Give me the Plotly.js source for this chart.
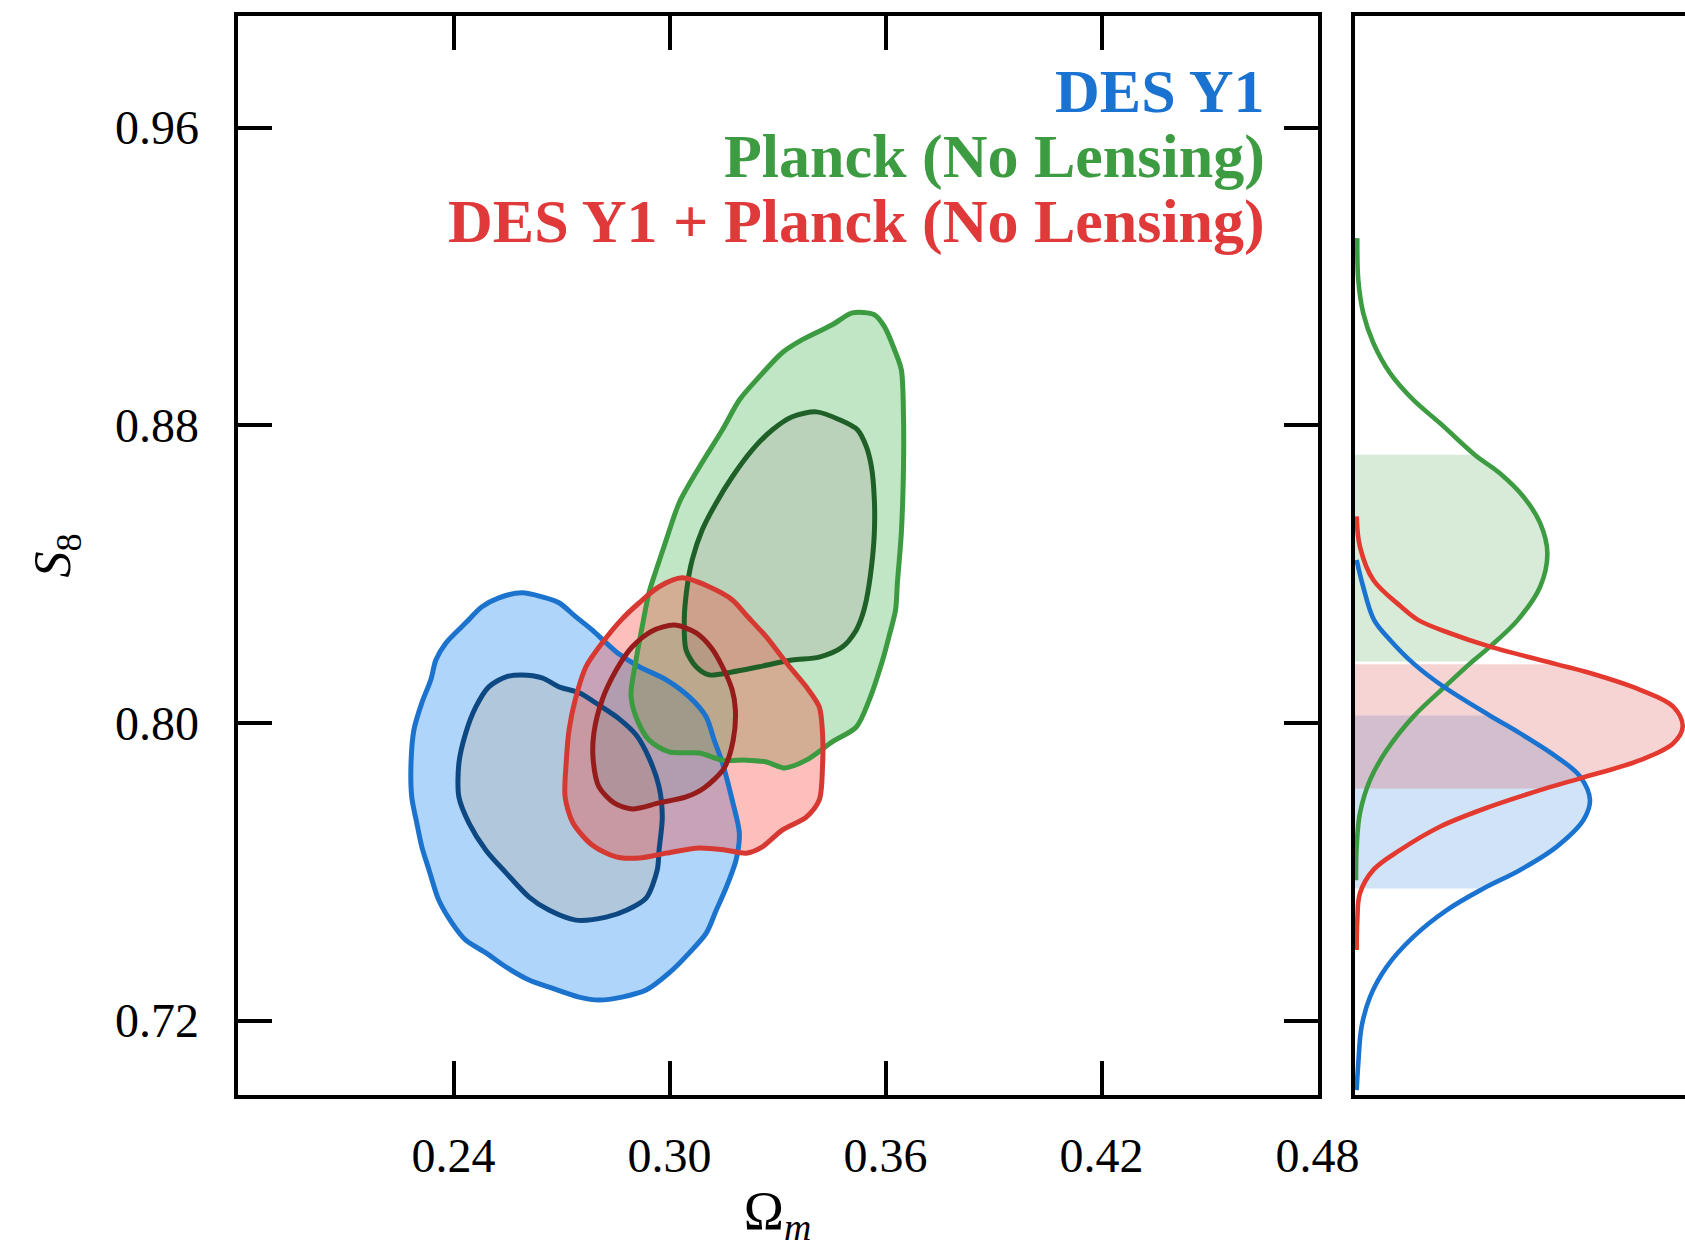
<!DOCTYPE html>
<html>
<head>
<meta charset="utf-8">
<script src="https://cdn.plot.ly/plotly-3.0.1.min.js"></script>
<style>html,body{margin:0;padding:0;background:#fff;}</style>
</head>
<body>
<div id="chart" style="width:1685px;height:1248px;"></div>
<script>
// ---------------- DATA ----------------
const seriesNames = ['DES Y1', 'Planck (No Lensing)', 'DES Y1 + Planck (No Lensing)'];
const omegaTicks = [0.24, 0.30, 0.36, 0.42, 0.48];
const s8Ticks = [0.72, 0.80, 0.88, 0.96];

// DES Y1 contours (Omega_m, S8)
const desOuterOm = [0.2526,0.2590,0.2646,0.2693,0.2740,0.2785,0.2824,0.2860,0.2916,0.2991,0.3055,0.3102,0.3124,0.3147,0.3174,0.3194,0.3185,0.3158,0.3130,0.3102,0.3055,0.2999,0.2935,0.2868,0.2804,0.2749,0.2674,0.2610,0.2546,0.2490,0.2434,0.2396,0.2359,0.2332,0.2312,0.2298,0.2284,0.2282,0.2290,0.2312,0.2337,0.2351,0.2379,0.2434,0.2479];
const desOuterS8 = [0.8336,0.8350,0.8339,0.8323,0.8285,0.8250,0.8215,0.8185,0.8151,0.8116,0.8070,0.8016,0.7954,0.7892,0.7793,0.7704,0.7632,0.7559,0.7497,0.7435,0.7382,0.7328,0.7282,0.7263,0.7255,0.7263,0.7287,0.7309,0.7344,0.7382,0.7416,0.7462,0.7524,0.7605,0.7667,0.7731,0.7801,0.7892,0.7981,0.8054,0.8116,0.8169,0.8215,0.8269,0.8312];
const desInnerOm = [0.2546,0.2590,0.2646,0.2693,0.2749,0.2804,0.2860,0.2907,0.2943,0.2971,0.2980,0.2971,0.2966,0.2935,0.2882,0.2824,0.2740,0.2665,0.2610,0.2546,0.2490,0.2443,0.2415,0.2415,0.2434,0.2462,0.2498];
const desInnerS8 = [0.8124,0.8129,0.8121,0.8097,0.8081,0.8048,0.8011,0.7968,0.7906,0.7828,0.7747,0.7658,0.7605,0.7529,0.7497,0.7478,0.7470,0.7497,0.7532,0.7597,0.7658,0.7731,0.7801,0.7892,0.7973,0.8043,0.8097];

// Planck (No Lensing) contours
const plkOuterOm = [0.3508,0.3569,0.3597,0.3625,0.3644,0.3650,0.3650,0.3644,0.3633,0.3628,0.3611,0.3592,0.3555,0.3519,0.3452,0.3380,0.3319,0.3269,0.3213,0.3147,0.3083,0.2999,0.2943,0.2907,0.2893,0.2907,0.2924,0.2943,0.2963,0.2991,0.3027,0.3083,0.3147,0.3194,0.3249,0.3313,0.3369,0.3452];
const plkOuterS8 = [0.9102,0.9097,0.9065,0.9003,0.8949,0.8823,0.8688,0.8511,0.8376,0.8304,0.8237,0.8169,0.8062,0.7989,0.7949,0.7900,0.7879,0.7895,0.7900,0.7900,0.7919,0.7922,0.7954,0.8016,0.8075,0.8169,0.8258,0.8350,0.8411,0.8492,0.8592,0.8688,0.8788,0.8868,0.8930,0.8995,0.9030,0.9070];
const plkInnerOm = [0.3408,0.3472,0.3522,0.3547,0.3561,0.3569,0.3569,0.3561,0.3547,0.3536,0.3519,0.3480,0.3416,0.3341,0.3249,0.3174,0.3110,0.3074,0.3046,0.3041,0.3049,0.3063,0.3091,0.3130,0.3174,0.3230,0.3286,0.3341];
const plkInnerS8 = [0.8836,0.8815,0.8788,0.8742,0.8688,0.8600,0.8511,0.8419,0.8331,0.8290,0.8250,0.8204,0.8177,0.8169,0.8151,0.8137,0.8129,0.8151,0.8196,0.8277,0.8366,0.8438,0.8519,0.8592,0.8661,0.8734,0.8788,0.8823];

// DES Y1 + Planck (No Lensing) contours
const combOuterOm = [0.3035,0.3110,0.3174,0.3213,0.3269,0.3325,0.3380,0.3416,0.3425,0.3425,0.3416,0.3380,0.3313,0.3258,0.3213,0.3158,0.3083,0.2991,0.2916,0.2852,0.2785,0.2732,0.2710,0.2713,0.2721,0.2738,0.2768,0.2813,0.2866,0.2916,0.2971];
const combOuterS8 = [0.8390,0.8366,0.8331,0.8290,0.8231,0.8161,0.8097,0.8043,0.7973,0.7882,0.7793,0.7747,0.7712,0.7667,0.7650,0.7658,0.7664,0.7650,0.7637,0.7640,0.7672,0.7731,0.7801,0.7892,0.7981,0.8062,0.8151,0.8215,0.8277,0.8323,0.8366];
const combInnerOm = [0.3013,0.3074,0.3116,0.3147,0.3174,0.3183,0.3177,0.3152,0.3096,0.3046,0.2971,0.2896,0.2846,0.2804,0.2788,0.2790,0.2813,0.2852,0.2896,0.2952];
const combInnerS8 = [0.8263,0.8242,0.8202,0.8151,0.8089,0.8035,0.7954,0.7879,0.7825,0.7801,0.7785,0.7769,0.7785,0.7828,0.7900,0.7973,0.8062,0.8142,0.8204,0.8247];

// 1D marginal posteriors of S8 (S8 value, relative density)
const plk1dS8 = [0.9303,0.9191,0.9102,0.9021,0.8940,0.8868,0.8806,0.8721,0.8671,0.8608,0.8537,0.8456,0.8366,0.8277,0.8205,0.8165,0.8102,0.8017,0.7927,0.7847,0.7757,0.7667,0.7577];
const plk1dP  = [0.007,0.010,0.025,0.056,0.107,0.178,0.259,0.365,0.442,0.514,0.565,0.587,0.565,0.497,0.412,0.358,0.280,0.178,0.097,0.046,0.015,0.005,0.003];
const comb1dS8 = [0.8555,0.8474,0.8384,0.8313,0.8277,0.8241,0.8205,0.8158,0.8134,0.8089,0.8044,0.7990,0.7945,0.7900,0.7851,0.7824,0.7775,0.7721,0.7658,0.7605,0.7542,0.7470,0.7390];
const comb1dP  = [0.005,0.015,0.056,0.140,0.192,0.290,0.412,0.614,0.717,0.870,0.971,1.000,0.971,0.870,0.687,0.582,0.412,0.259,0.137,0.056,0.015,0.007,0.005];
const des1dS8 = [0.8438,0.8366,0.8277,0.8223,0.8160,0.8098,0.8020,0.7972,0.7909,0.7856,0.7793,0.7739,0.7667,0.7605,0.7555,0.7497,0.7425,0.7345,0.7264,0.7183,0.7085,0.7013];
const des1dP  = [0.005,0.025,0.058,0.107,0.178,0.269,0.411,0.504,0.615,0.687,0.717,0.697,0.615,0.504,0.392,0.280,0.178,0.097,0.046,0.020,0.010,0.005];

// 68% intervals (upper, lower)
const plkBand = [0.8721, 0.8165];
const combBand = [0.8158, 0.7824];
const desBand = [0.8020, 0.7555];

// ---------------- STYLE ----------------
const C = {
  desLine: '#1b73cd', desInnerLine: '#0e4882', desFill: '#b0d5fa', desInnerFill: '#b0c7dc',
  plkLine: '#3c9b41', plkInnerLine: '#1f5f28', plkFill: 'rgba(129,205,141,0.5)', plkInnerFill: 'rgba(115,165,115,0.5)',
  combLine: '#d63832', combInnerLine: '#961c1c', combFill: 'rgba(249,61,49,0.33)', combInnerFill: 'rgba(179,27,8,0.3)',
  des1d: '#1a73d0', plk1d: '#3d9c42', comb1d: '#e3392f',
  desBand: 'rgba(26,115,208,0.2)', plkBand: 'rgba(60,155,65,0.2)', combBand: 'rgba(214,60,60,0.22)'
};
const SERIF = 'Liberation Serif, Times New Roman, serif';

function closeRing(a) { return a.concat([a[0]]); }
function band(ox, oy, ix, iy) {
  // outer ring + reversed inner ring => ring with hole
  const rx = ix.slice().reverse(), ry = iy.slice().reverse();
  return { x: closeRing(ox).concat([null]).concat(closeRing(rx)), y: closeRing(oy).concat([null]).concat(closeRing(ry)) };
}
function fillTrace(x, y, color) {
  return { x: x, y: y, type: 'scatter', mode: 'lines', fill: 'toself', fillcolor: color,
           line: { width: 0, shape: 'spline', smoothing: 0.8 }, hoverinfo: 'skip', xaxis: 'x', yaxis: 'y' };
}
function lineTrace(x, y, color) {
  return { x: closeRing(x), y: closeRing(y), type: 'scatter', mode: 'lines',
           line: { color: color, width: 5, shape: 'spline', smoothing: 0.8 }, hoverinfo: 'skip', xaxis: 'x', yaxis: 'y' };
}
function bandTrace(s8, p, edges, color) {
  const i0 = s8.indexOf(edges[0]), i1 = s8.indexOf(edges[1]);
  return { x: p.slice(i0, i1 + 1), y: s8.slice(i0, i1 + 1), type: 'scatter', mode: 'lines', fill: 'tozerox',
           fillcolor: color, line: { width: 0, shape: 'spline' }, hoverinfo: 'skip', xaxis: 'x2', yaxis: 'y2' };
}
function curveTrace(s8, p, color) {
  return { x: p, y: s8, type: 'scatter', mode: 'lines', line: { color: color, width: 4.6, shape: 'spline' },
           hoverinfo: 'skip', xaxis: 'x2', yaxis: 'y2' };
}

const desB = band(desOuterOm, desOuterS8, desInnerOm, desInnerS8);
const plkB = band(plkOuterOm, plkOuterS8, plkInnerOm, plkInnerS8);
const combB = band(combOuterOm, combOuterS8, combInnerOm, combInnerS8);

const traces = [
  fillTrace(desB.x, desB.y, C.desFill),
  fillTrace(closeRing(desInnerOm), closeRing(desInnerS8), C.desInnerFill),
  fillTrace(plkB.x, plkB.y, C.plkFill),
  fillTrace(closeRing(plkInnerOm), closeRing(plkInnerS8), C.plkInnerFill),
  fillTrace(combB.x, combB.y, C.combFill),
  fillTrace(closeRing(combInnerOm), closeRing(combInnerS8), C.combInnerFill),
  lineTrace(desOuterOm, desOuterS8, C.desLine),
  lineTrace(desInnerOm, desInnerS8, C.desInnerLine),
  lineTrace(plkOuterOm, plkOuterS8, C.plkLine),
  lineTrace(plkInnerOm, plkInnerS8, C.plkInnerLine),
  lineTrace(combOuterOm, combOuterS8, C.combLine),
  lineTrace(combInnerOm, combInnerS8, C.combInnerLine),
  bandTrace(plk1dS8, plk1dP, plkBand, C.plkBand),
  bandTrace(des1dS8, des1dP, desBand, C.desBand),
  bandTrace(comb1dS8, comb1dP, combBand, C.combBand),
  curveTrace(plk1dS8, plk1dP, C.plk1d),
  curveTrace(des1dS8, des1dP, C.des1d),
  curveTrace(comb1dS8, comb1dP, C.comb1d)
];

const axisCommon = {
  showgrid: false, zeroline: false, showline: true, linewidth: 4, linecolor: 'black',
  ticks: 'inside', ticklen: 34, tickwidth: 4, tickcolor: 'black', mirror: 'ticks',
  tickfont: { family: SERIF, size: 48, color: 'black' }, fixedrange: true
};

const legendColors = [C.des1d, C.plk1d, '#e0393a'];
const legendY = [0.9271, 0.8750, 0.8229];
const annotations = seriesNames.map((name, i) => ({
  text: name, xref: 'paper', yref: 'paper', x: 0.7522, y: legendY[i], xanchor: 'right', yanchor: 'middle',
  showarrow: false, font: { family: SERIF, size: 62, color: legendColors[i], weight: 'bold' }
}));

const layout = {
  width: 1685, height: 1248,
  margin: { l: 0, r: 0, t: 0, b: 0 },
  paper_bgcolor: 'white', plot_bgcolor: 'rgba(0,0,0,0)',
  showlegend: false,
  xaxis: Object.assign({}, axisCommon, {
    domain: [0.14095, 0.7819], range: [0.18, 0.48],
    tickvals: omegaTicks, ticktext: omegaTicks.map(v => v.toFixed(2)),
    ticklabelstandoff: 15,
    title: { text: 'Ω<sub><i>m</i></sub>', font: { family: SERIF, size: 54, color: 'black' }, standoff: 53 }
  }),
  yaxis: Object.assign({}, axisCommon, {
    domain: [0.1226, 0.98718], range: [0.70, 0.99],
    tickvals: s8Ticks, ticktext: s8Ticks.map(v => v.toFixed(2)),
    ticklabelstandoff: 25,
    title: { text: '<i>S</i><sub>8</sub>', font: { family: SERIF, size: 52, color: 'black' }, standoff: 29 }
  }),
  xaxis2: {
    domain: [0.80415, 1], range: [0, 1.007], anchor: 'y2',
    showgrid: false, zeroline: false, showline: true, mirror: true, linewidth: 4, linecolor: 'black',
    ticks: '', showticklabels: false, fixedrange: true
  },
  yaxis2: {
    domain: [0.1226, 0.98718], range: [0.70, 0.99], anchor: 'x2',
    showgrid: false, zeroline: false, showline: true, mirror: false, linewidth: 4, linecolor: 'black',
    ticks: '', showticklabels: false, fixedrange: true
  },
  annotations: annotations
};

Plotly.newPlot('chart', traces, layout, { staticPlot: true, displayModeBar: false });
</script>
</body>
</html>
